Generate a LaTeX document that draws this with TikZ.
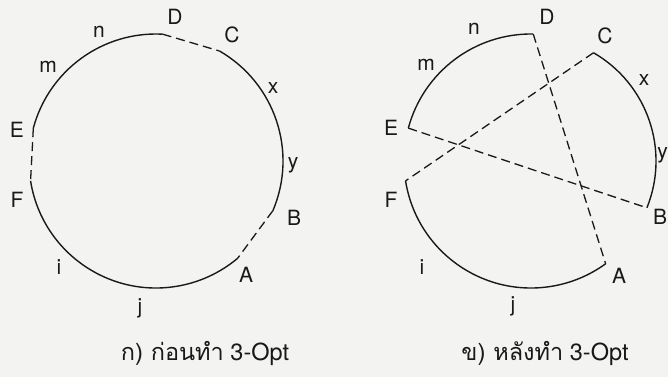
\documentclass[tikz,border=0pt]{standalone}
\usepackage{fontspec}
\setmainfont{TeX Gyre Heros}
\newfontfamily\thaifont[Script=Thai]{Loma}
\definecolor{paper}{RGB}{243,243,241}
\definecolor{ink}{RGB}{25,25,25}
\begin{document}
\begin{tikzpicture}[x=1pt,y=1pt,
  edge/.style={draw=ink,line width=1.4pt},
  dashedge/.style={draw=ink,line width=1.3pt,dash pattern=on 9pt off 5pt},
  lbl/.style={text=ink,font=\fontsize{21}{23}\selectfont,inner sep=0pt},
  captext/.style={text=ink,font=\fontsize{23.5}{26}\selectfont,inner sep=0pt}]
\fill[paper] (0,0) rectangle (668,377);
\useasboundingbox (0,0) rectangle (668,377);
% ---------- left: before ----------
\coordinate (Lc) at (156,216);
\path (Lc) ++(87:127) coordinate (LD);
\path (Lc) ++(165:127) coordinate (LE);
\path (Lc) ++(189:127) coordinate (LF);
\path (Lc) ++(310:127) coordinate (LA);
\path (Lc) ++(337:127) coordinate (LB);
\path (Lc) ++(60:127) coordinate (LC);
\draw[edge] (LD) arc[start angle=87,end angle=165,radius=127];
\draw[edge] (LF) arc[start angle=189,end angle=310,radius=127];
\draw[edge] (LB) arc[start angle=337,end angle=420,radius=127];
\draw[dashedge] (LD) -- (LC);
\draw[dashedge] (LE) -- (LF);
\draw[dashedge] (LB) -- (LA);
\node[lbl] (lD) at (175,360) {D};
\node[lbl] (lC) at (232,342) {C};
\node[lbl] (lx) at (273,289) {x};
\node[lbl] (ly) at (293,212) {y};
\node[lbl] (lB) at (294,159) {B};
\node[lbl] (lA) at (246,102) {A};
\node[lbl] (lj) at (140,69) {j};
\node[lbl] (li) at (59,110) {i};
\node[lbl] (lF) at (17,177) {F};
\node[lbl] (lE) at (17,247) {E};
\node[lbl] (lm) at (48,310) {m};
\node[lbl] (ln) at (99,345) {n};
\node[captext] (capL) at (205,24) {{\thaifont ก) ก่อนทำ} 3-Opt};
% ---------- right: after ----------
\coordinate (Rc) at (531,216);
\path (Rc) ++(89:127) coordinate (RD);
\path (Rc) ++(165:127) coordinate (RE);
\path (Rc) ++(189:127) coordinate (RF);
\path (Rc) ++(306:127) coordinate (RA);
\path (Rc) ++(338:125) coordinate (RB);
\path (Rc) ++(60:125) coordinate (RC);
\draw[edge] (RD) arc[start angle=89,end angle=165,radius=127];
\draw[edge] (RF) arc[start angle=189,end angle=306,radius=127];
\draw[edge] (RB) arc[start angle=338,end angle=420,radius=125];
\draw[dashedge] (RD) -- (RA);
\draw[dashedge] (RC) -- (RF);
\draw[dashedge] (RE) -- (RB);
\node[lbl] (rD) at (547,360) {D};
\node[lbl] (rn) at (474,348) {n};
\node[lbl] (rm) at (426,312) {m};
\node[lbl] (rC) at (605,341) {C};
\node[lbl] (rx) at (644,297) {x};
\node[lbl] (ry) at (662.5,222) {y};
\node[lbl] (rB) at (660,160) {B};
\node[lbl] (rE) at (391,249) {E};
\node[lbl] (rF) at (391,177) {F};
\node[lbl] (ri) at (422,110) {i};
\node[lbl] (rA) at (619,101) {A};
\node[lbl] (rj) at (513,71) {j};
\node[captext] (capR) at (545,24) {{\thaifont ข) หลังทำ} 3-Opt};
\end{tikzpicture}
\end{document}
